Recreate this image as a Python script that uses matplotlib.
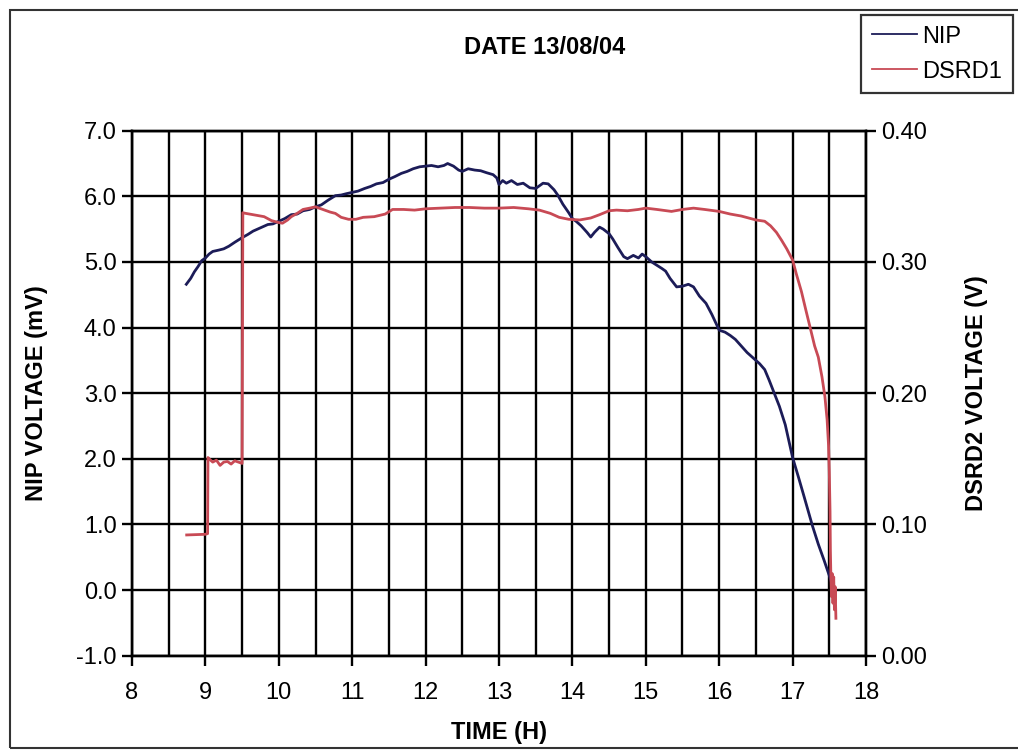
import matplotlib
matplotlib.use("Agg")
import matplotlib.pyplot as plt
from matplotlib.ticker import MultipleLocator, FormatStrFormatter
from matplotlib.patches import Rectangle

plt.rcParams['font.family'] = ['Liberation Sans', 'DejaVu Sans']
plt.rcParams['axes.unicode_minus'] = False

title = "DATE 13/08/04"
xlabel = "TIME (H)"
ylabel_left = "NIP VOLTAGE (mV)"
ylabel_right = "DSRD2 VOLTAGE (V)"
series_names = ["NIP", "DSRD1"]

nip_time = [8.74, 8.80, 8.85, 8.90, 8.95, 9.00, 9.05, 9.10, 9.18, 9.25, 9.32, 9.40, 9.50, 9.58, 9.65,
            9.77, 9.85, 9.92, 10.00, 10.08, 10.17, 10.25, 10.33, 10.42, 10.50, 10.58, 10.67, 10.77,
            10.85, 10.92, 11.00, 11.08, 11.17, 11.25, 11.33, 11.42, 11.50, 11.58, 11.67, 11.75, 11.83,
            11.92, 12.00, 12.08, 12.17, 12.25, 12.30, 12.38, 12.45, 12.50, 12.58, 12.67, 12.75, 12.83,
            12.92, 12.97, 13.00, 13.05, 13.10, 13.17, 13.25, 13.33, 13.42, 13.50, 13.55, 13.60, 13.67,
            13.75, 13.80, 13.87, 13.95, 14.00, 14.05, 14.12, 14.20, 14.25, 14.30, 14.37, 14.42, 14.50,
            14.55, 14.62, 14.70, 14.75, 14.83, 14.90, 14.95, 15.00, 15.08, 15.15, 15.22, 15.27, 15.33,
            15.42, 15.50, 15.58, 15.65, 15.73, 15.82, 15.90, 15.95, 16.00, 16.08, 16.15, 16.22, 16.30,
            16.38, 16.47, 16.55, 16.62, 16.68, 16.75, 16.82, 16.90, 17.00, 17.08, 17.15, 17.27, 17.35,
            17.43, 17.50, 17.54]
nip_mv = [4.66, 4.75, 4.85, 4.93, 5.02, 5.06, 5.12, 5.16, 5.18, 5.20, 5.24, 5.30, 5.37, 5.42, 5.47,
          5.53, 5.57, 5.58, 5.62, 5.66, 5.72, 5.73, 5.78, 5.80, 5.84, 5.87, 5.94, 6.01,
          6.02, 6.04, 6.06, 6.08, 6.12, 6.15, 6.19, 6.21, 6.26, 6.30, 6.35, 6.38, 6.42,
          6.45, 6.46, 6.47, 6.45, 6.47, 6.50, 6.46, 6.40, 6.38, 6.42, 6.40, 6.39, 6.36,
          6.33, 6.28, 6.18, 6.24, 6.20, 6.24, 6.18, 6.20, 6.13, 6.12, 6.16, 6.20, 6.19,
          6.10, 6.02, 5.88, 5.75, 5.66, 5.62, 5.55, 5.45, 5.38, 5.45, 5.53, 5.50, 5.43,
          5.35, 5.22, 5.08, 5.05, 5.10, 5.06, 5.12, 5.08, 5.00, 4.95, 4.90, 4.86, 4.75,
          4.62, 4.63, 4.66, 4.62, 4.48, 4.37, 4.20, 4.08, 3.96, 3.93, 3.88, 3.82, 3.72,
          3.62, 3.53, 3.45, 3.36, 3.20, 3.00, 2.80, 2.52, 2.02, 1.72, 1.45, 0.98, 0.70,
          0.45, 0.22, 0.08]

dsrd_time = [8.745, 9.00, 9.03, 9.035, 9.05, 9.10, 9.15, 9.20, 9.25, 9.30, 9.35, 9.40, 9.45, 9.50,
             9.51, 9.55, 9.65, 9.80, 9.90, 10.00, 10.05, 10.12, 10.17, 10.25, 10.33, 10.42, 10.50,
             10.60, 10.70, 10.77, 10.85, 10.95, 11.05, 11.15, 11.30, 11.45, 11.55, 11.70, 11.85,
             12.00, 12.20, 12.40, 12.60, 12.80, 13.00, 13.20, 13.40, 13.55, 13.70, 13.82, 13.95,
             14.10, 14.25, 14.37, 14.50, 14.60, 14.75, 14.90, 15.00, 15.15, 15.35, 15.50, 15.65,
             15.80, 16.00, 16.15, 16.30, 16.50, 16.62, 16.70, 16.78, 16.85, 16.92, 17.00, 17.05,
             17.12, 17.18, 17.25, 17.30, 17.35, 17.40, 17.44, 17.47, 17.49, 17.50, 17.51, 17.515,
             17.52, 17.53, 17.54, 17.55, 17.56, 17.57, 17.58, 17.59]
dsrd_v = [0.092, 0.0925, 0.093, 0.151, 0.150, 0.1475, 0.149, 0.145, 0.1475, 0.148, 0.146, 0.1485,
          0.1475, 0.1465,
          0.3375, 0.337, 0.336, 0.3345, 0.3315, 0.330, 0.3295, 0.332, 0.3345, 0.337, 0.340, 0.341,
          0.342, 0.340, 0.338, 0.337, 0.334, 0.3325, 0.3325, 0.334, 0.3345, 0.3365, 0.340, 0.340,
          0.3395, 0.3405, 0.341, 0.3415, 0.3415, 0.341, 0.341, 0.3415, 0.3405, 0.3395, 0.337,
          0.334, 0.3325, 0.332, 0.3335, 0.336, 0.339, 0.3395, 0.339, 0.340, 0.341, 0.340, 0.3385,
          0.340, 0.341, 0.340, 0.3385, 0.3365, 0.335, 0.332, 0.331, 0.3275, 0.3225, 0.3165, 0.310,
          0.3015, 0.291, 0.2775, 0.2635, 0.2475, 0.236, 0.2275, 0.2125, 0.1975, 0.180, 0.160, 0.140,
          0.110, 0.080, 0.065, 0.045, 0.0625, 0.040, 0.060, 0.035, 0.0525, 0.0285]

W, H = 1018, 751
fig = plt.figure(figsize=(W / 100, H / 100), dpi=100)
ax = fig.add_axes([132 / W, 1 - 655.7 / H, (866 - 132) / W, (655.7 - 130.7) / H])
ax2 = ax.twinx()

nip_color = "#1c1c58"
dsrd_color = "#c84a55"
l1, = ax.plot(nip_time, nip_mv, color=nip_color, lw=2.0, zorder=3)
l2, = ax2.plot(dsrd_time, dsrd_v, color=dsrd_color, lw=2.0, zorder=3)

ax.set_xlim(8, 18)
ax.set_ylim(-1.0, 7.0)
ax2.set_ylim(0.0, 0.40)

ax.xaxis.set_major_locator(MultipleLocator(1))
ax.xaxis.set_minor_locator(MultipleLocator(0.5))
ax.yaxis.set_major_locator(MultipleLocator(1))
ax.yaxis.set_major_formatter(FormatStrFormatter('%.1f'))
ax2.yaxis.set_major_locator(MultipleLocator(0.1))
ax2.yaxis.set_major_formatter(FormatStrFormatter('%.2f'))

ax.set_axisbelow(True)
ax.grid(which='both', axis='x', color='black', lw=1.7)
ax.grid(which='major', axis='y', color='black', lw=1.7)

fs = 17
ax.tick_params(axis='x', which='major', direction='out', length=7, width=1.7, labelsize=fs, pad=12)
ax.tick_params(axis='x', which='minor', length=0)
ax.tick_params(axis='y', direction='out', length=7, width=1.7, labelsize=fs, pad=4)
ax2.tick_params(axis='y', direction='out', length=7, width=1.7, labelsize=fs, pad=4)

for a in (ax, ax2):
    for s in a.spines.values():
        s.set_linewidth(1.7)
        s.set_color('black')

ax.set_xlabel(xlabel, fontsize=fs, fontweight='bold')
ax.xaxis.set_label_coords(0.5, -0.125)
ax.set_ylabel(ylabel_left, fontsize=fs, fontweight='bold')
ax.yaxis.set_label_coords(-0.115, 0.5)
ax2.set_ylabel(ylabel_right, fontsize=fs, fontweight='bold', rotation=90)
ax2.yaxis.set_label_coords(1.135, 0.5)

fig.text(545 / W, 1 - 48 / H, title, fontsize=fs, fontweight='bold', ha='center', va='center')

leg = fig.legend([l1, l2], series_names, loc='upper right',
                 bbox_to_anchor=(1013 / W, 1 - 15 / H), borderaxespad=0, fontsize=fs,
                 frameon=True, fancybox=False, edgecolor='black', handlelength=1.9,
                 handletextpad=0.25, borderpad=0.45, labelspacing=0.55)
leg.get_frame().set_linewidth(1.6)
for h in leg.legend_handles:
    h.set_linewidth(1.3)

fig.patches.append(Rectangle((10 / W, 1 - 748 / H), 1.2, (748 - 10) / H,
                             transform=fig.transFigure, fill=False, edgecolor='#333333',
                             lw=1.5, zorder=0))

fig.savefig("out.png", dpi=100)
